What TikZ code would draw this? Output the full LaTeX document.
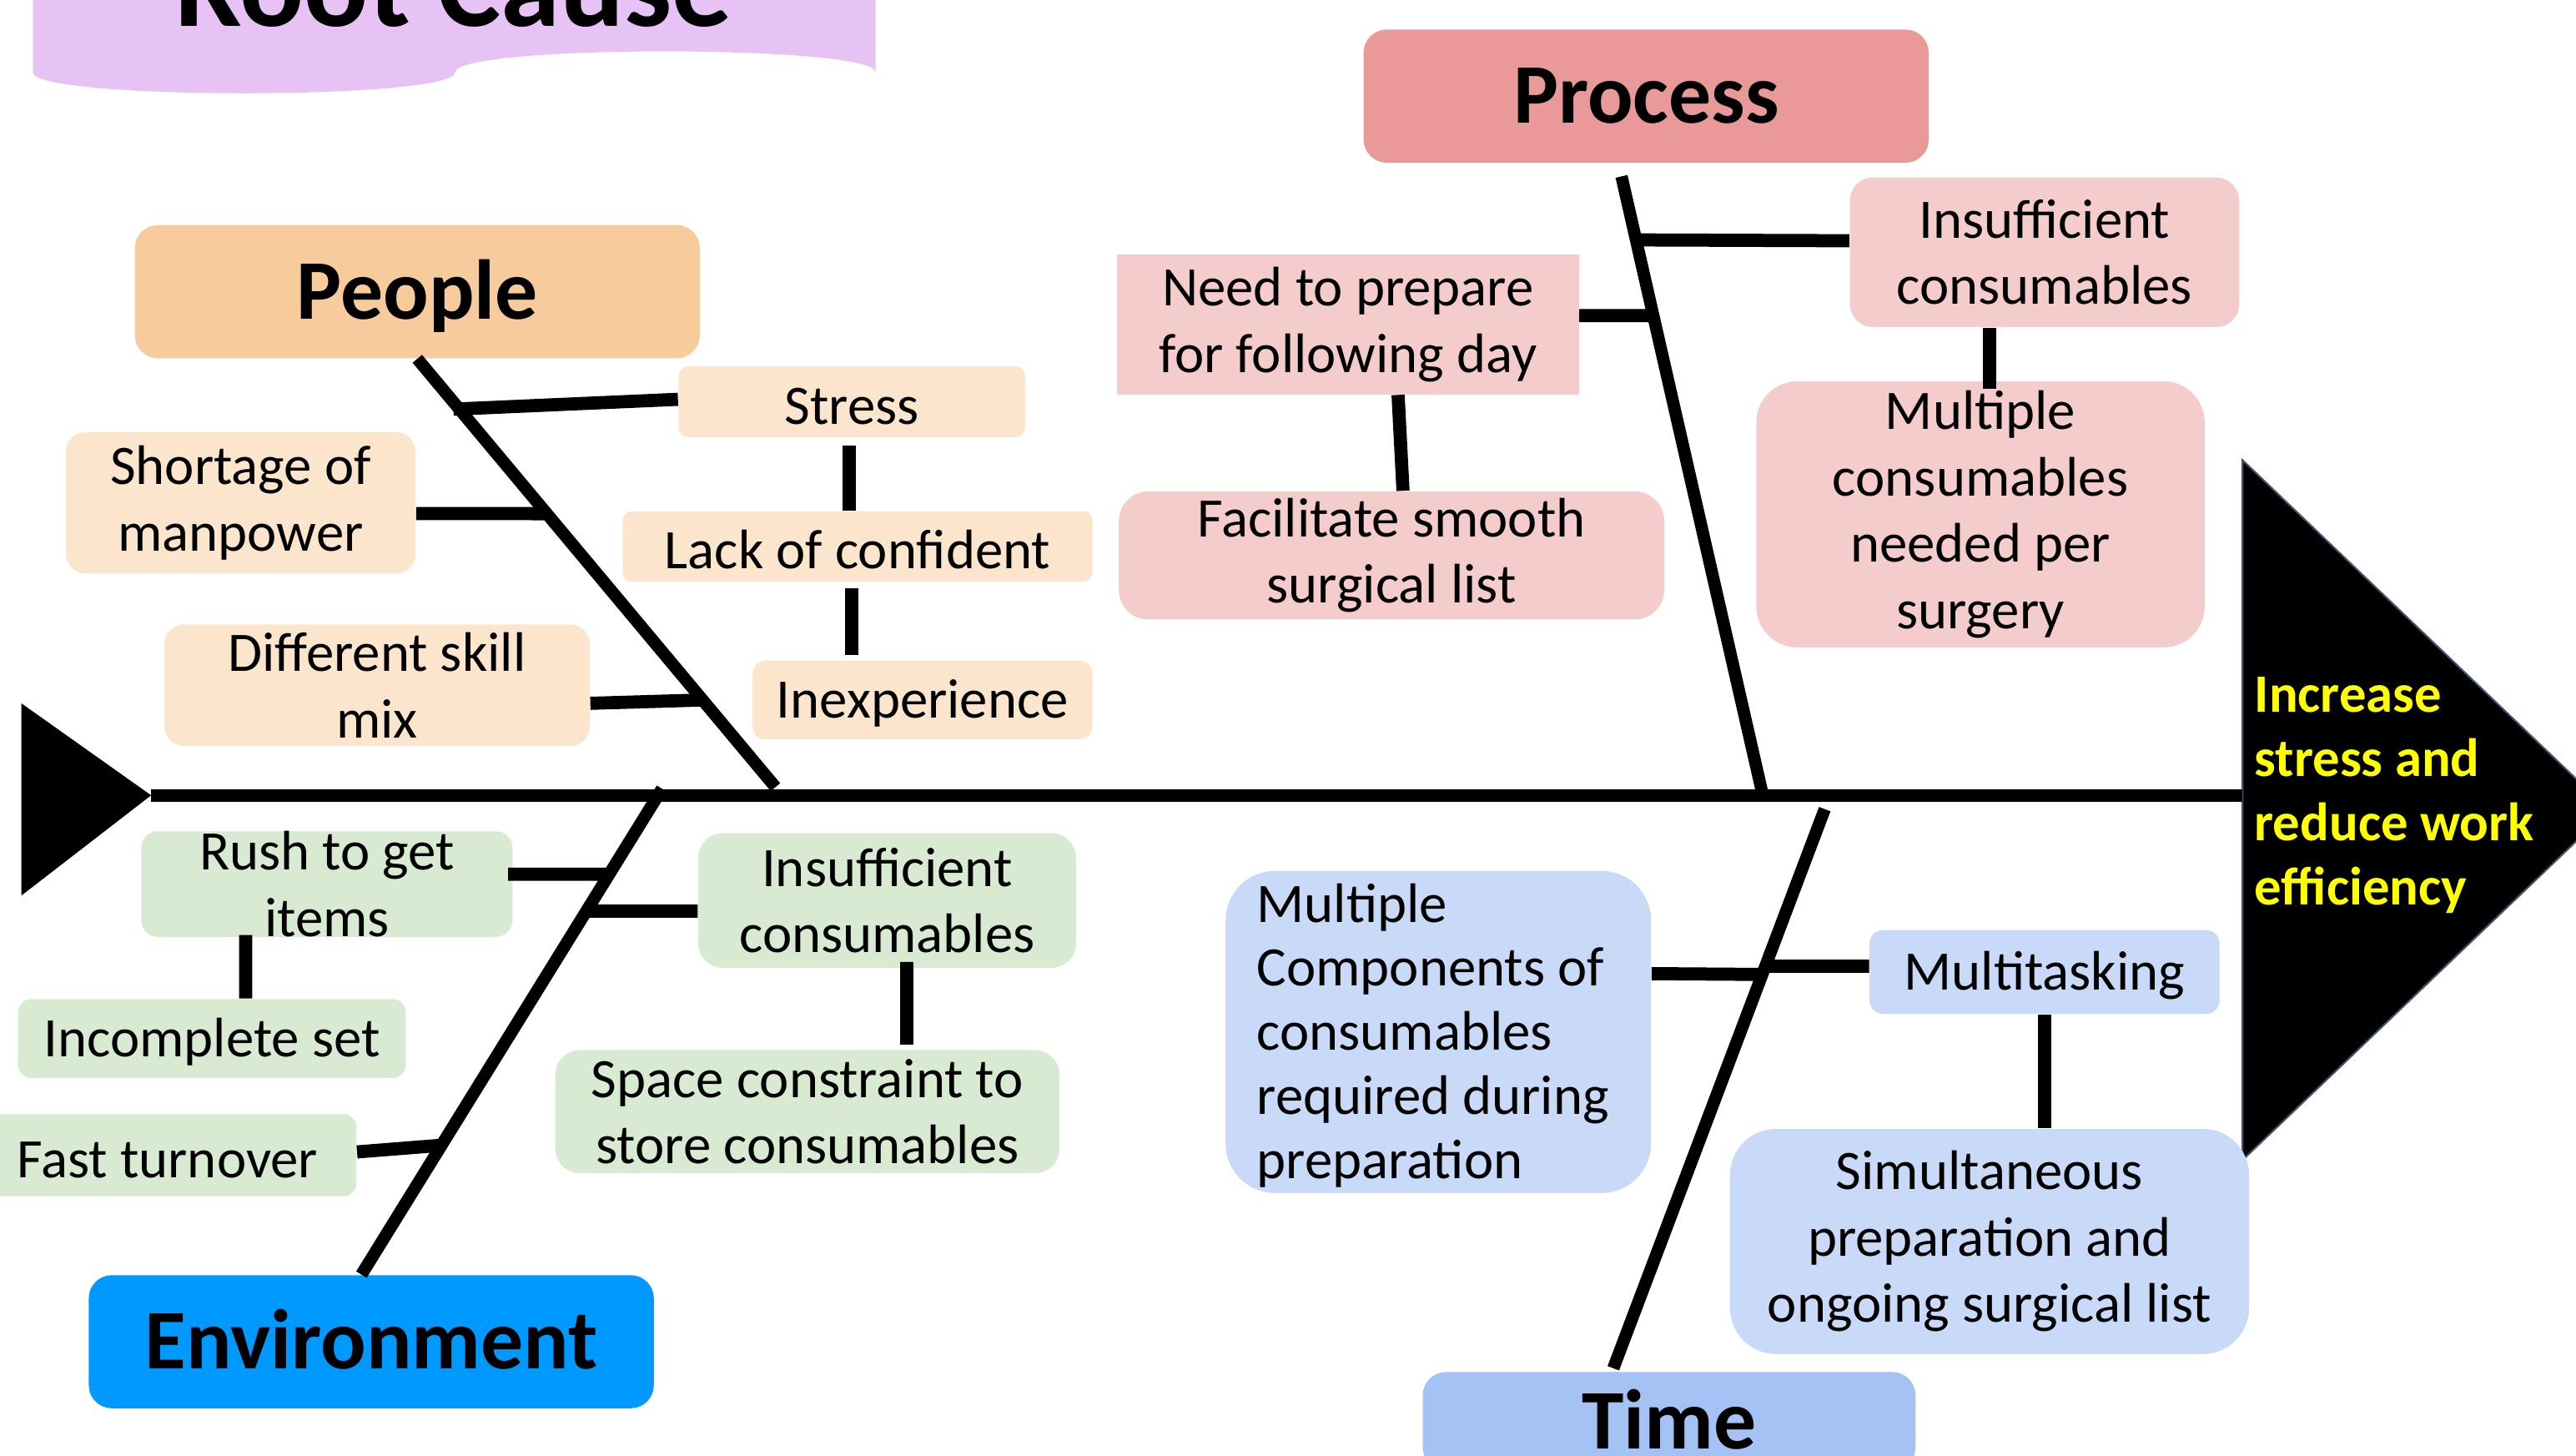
\documentclass[tikz,border=0pt]{standalone}
\usepackage{fontspec}
\setmainfont{Carlito}
\usetikzlibrary{calc}

\definecolor{rootbg}{HTML}{E6C3F4}
\definecolor{peoplehdr}{HTML}{F8CB9D}
\definecolor{peoplebox}{HTML}{FCE5CD}
\definecolor{processhdr}{HTML}{EA9999}
\definecolor{processbox}{HTML}{F4CCCC}
\definecolor{envhdr}{HTML}{0099FF}
\definecolor{envbox}{HTML}{D9EAD3}
\definecolor{timehdr}{HTML}{A4C2F4}
\definecolor{timebox}{HTML}{C9DAF8}
\definecolor{headedge}{HTML}{44546A}
\definecolor{effecttext}{HTML}{FFFF00}

\newcommand{\causefont}{\fontsize{19.3}{23}\selectfont}
\newcommand{\compfont}{\fontsize{19.3}{22.2}\selectfont}
\newcommand{\hdrfont}{\fontsize{29.4}{35}\selectfont\bfseries}
\newcommand{\rootfont}{\fontsize{41.5}{48}\selectfont\bfseries}
\newcommand{\effectfont}{\fontsize{18.7}{22.2}\selectfont\bfseries}

\tikzset{
  spine/.style={line width=0.15cm},
  bone/.style={line width=0.15cm},
  conn/.style={line width=0.16cm},
  hdr/.style={rounded corners=0.28cm, minimum width=6.88cm, minimum height=1.62cm,
    font=\hdrfont, text height=18.9pt, text depth=0pt, inner sep=0pt},
  cause/.style={rounded corners=0.16cm, inner sep=0pt, align=center, font=\causefont,
    execute at begin node={\rule{0pt}{0.82em}}},
  lowtext/.style={execute at begin node={\rule{0pt}{1.1em}}},
}

\begin{document}
\begin{tikzpicture}[x=0.02cm, y=-0.02cm]
  \useasboundingbox (0,0) rectangle (1568,886);

  % root cause banner
  \fill[rootbg] (20,-10) -- (20,44) .. controls (20,61) and (277,61) .. (277,44)
    .. controls (277,27) and (533,27) .. (533,44) -- (533,-10) -- cycle;
  \node[font=\rootfont, anchor=base, inner sep=0pt] (root) at (276,16) {Root Cause};

  % tail and head of the fish
  \fill (13,428) -- (92,484) -- (13,545) -- cycle;
  \filldraw[fill=black, draw=headedge, line width=0.6pt] (1365,280) -- (1588,493) -- (1365,706) -- cycle;
  \node[anchor=west, align=left, font=\effectfont, text=effecttext, inner sep=0pt] (effect) at (1372,484)
    {Increase\\stress and\\reduce work\\efficiency};

  % spine
  \coordinate (tail) at (92,484);
  \coordinate (head) at (1365,484);
  \draw[spine] (tail) -- (head);

  % headers
  \node[hdr, fill=peoplehdr] (people) at (254,177.5) {People};
  \node[hdr, fill=processhdr] (process) at (1002,58.5) {Process};
  \node[hdr, fill=envhdr] (env) at (226,816.5) {Environment};
  \node[hdr, fill=timehdr, minimum width=6cm, minimum height=1.2cm] (time) at (1016,865) {Time};

  % people causes
  \node[cause, fill=peoplebox, minimum width=4.22cm, minimum height=0.86cm, rounded corners=0.12cm] (stress) at (518.5,244.5) {Stress};
  \node[cause, fill=peoplebox, minimum width=5.72cm, minimum height=0.86cm, rounded corners=0.12cm] (lack) at (522,332.5) {Lack of confident};
  \node[cause, fill=peoplebox, minimum width=4.14cm, minimum height=0.96cm] (inexp) at (561.5,426) {Inexperience};
  \node[cause, lowtext, fill=peoplebox, minimum width=4.26cm, minimum height=1.72cm, rounded corners=0.24cm] (shortage) at (146.5,306) {Shortage of\\manpower};
  \node[cause, fill=peoplebox, minimum width=5.18cm, minimum height=1.48cm, rounded corners=0.24cm] (skill) at (229.5,417) {Different skill\\mix};

  % process causes
  \node[cause, fill=processbox, minimum width=4.74cm, minimum height=1.82cm, rounded corners=0.28cm] (insuffp) at (1244.5,153.5) {Insufficient\\consumables};
  \node[cause, lowtext, fill=processbox, minimum width=5.62cm, minimum height=1.7cm, rounded corners=0pt] (prepare) at (820.5,197.5) {Need to prepare\\for following day};
  \node[cause, lowtext, fill=processbox, minimum width=6.64cm, minimum height=1.56cm, rounded corners=0.36cm] (smooth) at (847,338) {Facilitate smooth\\surgical list};
  \node[cause, lowtext, fill=processbox, minimum width=5.46cm, minimum height=3.24cm, rounded corners=0.5cm] (multicons) at (1205.5,313) {Multiple\\consumables\\needed per\\surgery};

  % environment causes
  \node[cause, fill=envbox, minimum width=4.52cm, minimum height=1.24cm, rounded corners=0.2cm] (rush) at (199,538) {Rush to get\\items};
  \node[cause, fill=envbox, minimum width=4.72cm, minimum height=0.96cm] (incomplete) at (129,632) {Incomplete set};
  \node[cause, fill=envbox, minimum width=4.6cm, minimum height=1cm] (fast) at (102,703) {Fast turnover};
  \node[cause, fill=envbox, minimum width=4.6cm, minimum height=1.64cm, rounded corners=0.3cm] (insuffe) at (540,548) {Insufficient\\consumables};
  \node[cause, fill=envbox, minimum width=6.14cm, minimum height=1.5cm, rounded corners=0.3cm] (space) at (491.5,676.5) {Space constraint to\\store consumables};

  % time causes
  \node[cause, fill=timebox, align=flush left, font=\compfont, text width=4.42cm, inner xsep=0.38cm, minimum height=3.92cm, rounded corners=0.6cm] (components) at (875.5,628) {Multiple\\Components of\\consumables\\required during\\preparation};
  \node[cause, fill=timebox, minimum width=4.26cm, minimum height=1.02cm] (multitask) at (1244.5,591.5) {Multitasking};
  \node[cause, lowtext, fill=timebox, minimum width=6.32cm, minimum height=2.74cm, rounded corners=0.56cm] (simult) at (1211,755.5) {Simultaneous\\preparation and\\ongoing surgical list};

  % bones
  \coordinate (pj) at (472,479);
  \coordinate (qj) at (1073,484);
  \coordinate (ej) at (403,480);
  \coordinate (tj) at (1110.7,492.4);
  \draw[bone] (people.south) -- (pj);
  \draw[bone] ([xshift=-0.3cm,yshift=-0.16cm]process.south) -- (qj);
  \draw[bone] ([xshift=-0.12cm]env.north) -- (ej);
  \draw[bone] ([xshift=-0.68cm,yshift=0.04cm]time.north) -- (tj);

  % people links
  \coordinate (p1) at (276,249);
  \coordinate (p2) at (331,312.6);
  \coordinate (p3) at (427,426);
  \draw[conn] ([yshift=0.03cm]stress.west) -- (p1);
  \draw[conn] ([yshift=-0.13cm]shortage.east) -- (p2);
  \draw[conn] ([yshift=-0.22cm]skill.east) -- (p3);
  \draw[conn, shorten <=0.1cm] ([xshift=-0.03cm]stress.south) -- ([xshift=-0.03cm]stress.south |- lack.north);
  \draw[conn, shorten <=0.07cm, shorten >=0.06cm] (lack.south -| stress.south) -- (inexp.north -| stress.south);

  % process links
  \coordinate (q1) at (996,146);
  \coordinate (q2) at (1006,192);
  \draw[conn] ([yshift=0.14cm]insuffp.west) -- (q1);
  \draw[conn] ([yshift=0.11cm]prepare.east) -- (q2);
  \draw[conn] ([xshift=0.61cm]prepare.south) -- ([xshift=0.14cm]smooth.north);
  \draw[conn] ([xshift=0.11cm]multicons.north |- insuffp.south) -- ([xshift=0.11cm,yshift=-0.1cm]multicons.north);

  % environment links
  \coordinate (e1) at (371,532);
  \coordinate (e2) at (357,554.5);
  \coordinate (e3) at (268,697);
  \draw[conn] ([xshift=-0.06cm,yshift=0.12cm]rush.east) -- (e1);
  \draw[conn] ([yshift=-0.13cm]insuffe.west) -- (e2);
  \draw[conn] ([yshift=0.04cm]fast.east) -- (e3);
  \draw[conn] ([xshift=-0.99cm,yshift=0.03cm]rush.south) -- ([xshift=0.41cm]incomplete.north);
  \draw[conn, shorten >=0.06cm] ([xshift=0.24cm,yshift=0.08cm]insuffe.south) -- ([xshift=1.21cm]space.north);

  % time links
  \coordinate (t1) at (1073,593);
  \coordinate (t2) at (1075,588);
  \draw[conn] ([yshift=0.71cm]components.east) -- (t1);
  \draw[conn] ([yshift=0.07cm]multitask.west) -- (t2);
  \draw[conn] (multitask.south) -- (multitask.south |- simult.north);
\end{tikzpicture}
\end{document}
